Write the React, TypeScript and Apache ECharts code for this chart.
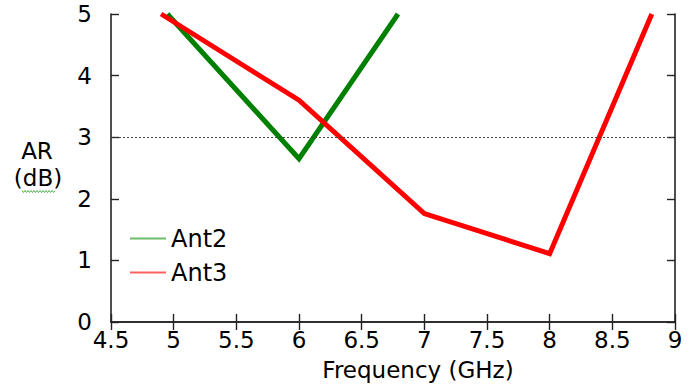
import React, { useEffect, useRef } from "react";
import * as echarts from "echarts";

const seriesNames = ["Ant2", "Ant3"];
const ant2Data: [number, number][] = [
  [4.95, 5],
  [6, 2.65],
  [6.79, 5],
];
const ant3Data: [number, number][] = [
  [4.9, 5],
  [6, 3.6],
  [7, 1.76],
  [8, 1.11],
  [8.815, 5],
];
const thresholdValue = 3;
const xMin = 4.5;
const xMax = 9;
const xStep = 0.5;
const yMin = 0;
const yMax = 5;
const yStep = 1;
const xTitle = "Frequency (GHz)";
const yTitleLines = ["AR", "(dB)"];

const FONT = "DejaVu Sans";

export default function App() {
  const ref = useRef<HTMLDivElement>(null);
  useEffect(() => {
    if (!ref.current) return;
    const chart = echarts.init(ref.current, null, { renderer: "svg" });
    const frame = { lineStyle: { color: "#222", width: 1.6 } };
    const tick = { show: true, inside: true, length: 8, lineStyle: { color: "#222", width: 1.4 } };
    const wave: number[][] = [];
    for (let i = 0; i <= 22; i++) {
      wave.push([22 + i * 1.5, i % 2 === 0 ? 190.5 : 192.5]);
    }
    chart.setOption({
      animation: false,
      backgroundColor: "#fff",
      grid: { left: 111, right: 22, top: 14, bottom: 63, containLabel: false },
      legend: {
        orient: "vertical",
        left: 130,
        top: 226,
        padding: 0,
        icon: "rect",
        itemWidth: 36,
        itemHeight: 2,
        itemGap: 9,
        textStyle: { fontFamily: FONT, fontSize: 24, color: "#000", lineHeight: 25 },
        data: [
          { name: seriesNames[0], itemStyle: { color: "#6dbd6d" } },
          { name: seriesNames[1], itemStyle: { color: "#ff6060" } },
        ],
      },
      xAxis: [
        {
          type: "value",
          min: xMin,
          max: xMax,
          interval: xStep,
          position: "bottom",
          axisLine: { show: true, ...frame },
          axisTick: tick,
          splitLine: { show: false },
          axisLabel: { fontFamily: FONT, fontSize: 23, color: "#000", margin: 6 },
        },
        {
          type: "value",
          min: xMin,
          max: xMax,
          interval: xStep,
          position: "top",
          axisLine: { show: true, ...frame },
          axisTick: tick,
          splitLine: { show: false },
          axisLabel: { show: false },
        },
      ],
      yAxis: [
        {
          type: "value",
          min: yMin,
          max: yMax,
          interval: yStep,
          position: "left",
          axisLine: { show: true, ...frame },
          axisTick: tick,
          splitLine: { show: false },
          axisLabel: { fontFamily: FONT, fontSize: 23, color: "#000", margin: 19 },
        },
        {
          type: "value",
          min: yMin,
          max: yMax,
          interval: yStep,
          position: "right",
          axisLine: { show: true, ...frame },
          axisTick: tick,
          splitLine: { show: false },
          axisLabel: { show: false },
        },
      ],
      graphic: [
        {
          type: "text",
          x: 418,
          y: 370,
          style: {
            text: xTitle,
            font: `23px "${FONT}"`,
            fill: "#000",
            align: "center",
            verticalAlign: "middle",
          },
        },
        {
          type: "text",
          x: 37,
          y: 151,
          style: {
            text: yTitleLines[0],
            font: `23px "${FONT}"`,
            fill: "#000",
            align: "center",
            verticalAlign: "middle",
          },
        },
        {
          type: "text",
          x: 38,
          y: 178,
          style: {
            text: yTitleLines[1],
            font: `23px "${FONT}"`,
            fill: "#000",
            align: "center",
            verticalAlign: "middle",
          },
        },
        {
          type: "polyline",
          shape: { points: wave },
          style: { stroke: "#4caf50", lineWidth: 1, fill: null },
        },
      ],
      series: [
        {
          name: seriesNames[0],
          type: "line",
          data: ant2Data,
          symbol: "none",
          lineStyle: { color: "#008000", width: 5, join: "miter" },
          itemStyle: { color: "#008000" },
          z: 3,
          markLine: {
            silent: true,
            symbol: "none",
            label: { show: false },
            lineStyle: { color: "#444", width: 1, type: [2, 2] },
            data: [{ yAxis: thresholdValue }],
          },
        },
        {
          name: seriesNames[1],
          type: "line",
          data: ant3Data,
          symbol: "none",
          lineStyle: { color: "#ff0000", width: 5, join: "miter" },
          itemStyle: { color: "#ff0000" },
          z: 4,
        },
      ],
    });
    return () => chart.dispose();
  }, []);
  return (
    <div
      ref={ref}
      style={{ position: "fixed", left: 0, top: 0, width: 697, height: 385 }}
    />
  );
}
